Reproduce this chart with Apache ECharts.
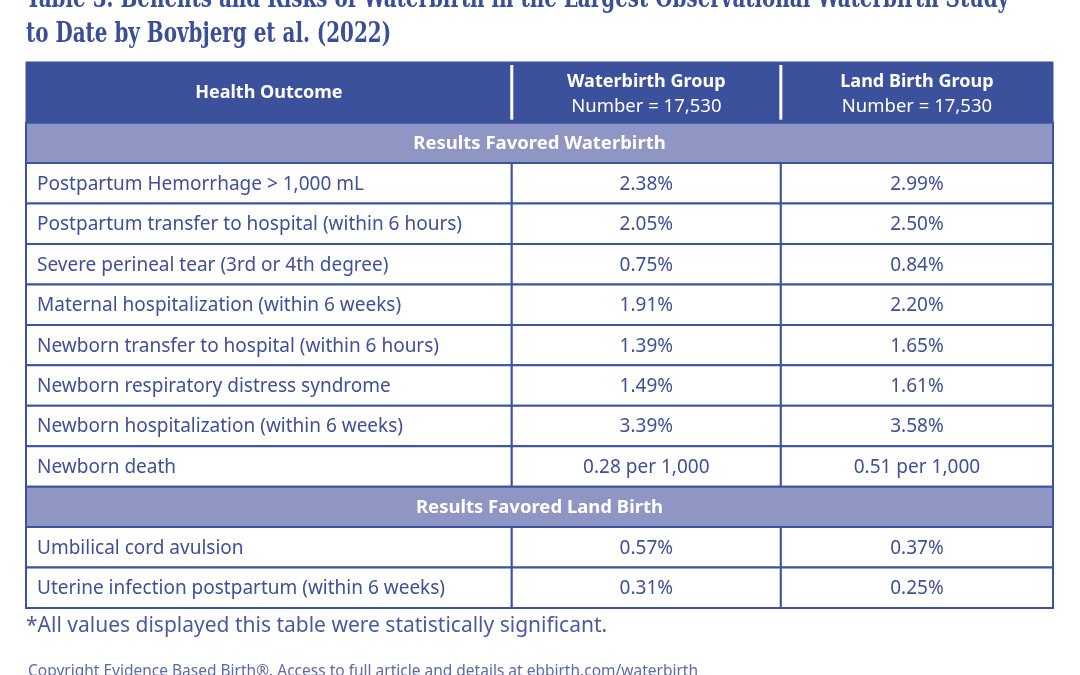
<!DOCTYPE html>
<html>
<head>
<meta charset="utf-8">
<script src="https://cdn.jsdelivr.net/npm/echarts@6.0.0/dist/echarts.min.js"></script>
<style>
    html, body { margin: 0; padding: 0; background: #fff; }
    #chart { width: 1080px; height: 675px; }
</style>
</head>
<body>
<div id="chart"></div>
<script>
// table content
const headers = ['Health Outcome', 'Waterbirth Group', 'Land Birth Group'];
const groupSizes = ['', 'Number = 17,530', 'Number = 17,530'];
const sectionTitles = ['Results Favored Waterbirth', 'Results Favored Land Birth'];

const waterFavoredOutcomes = [
    'Postpartum Hemorrhage > 1,000 mL',
    'Postpartum transfer to hospital (within 6 hours)',
    'Severe perineal tear (3rd or 4th degree)',
    'Maternal hospitalization (within 6 weeks)',
    'Newborn transfer to hospital (within 6 hours)',
    'Newborn respiratory distress syndrome',
    'Newborn hospitalization (within 6 weeks)',
    'Newborn death'
];
const waterFavoredWater = ['2.38%', '2.05%', '0.75%', '1.91%', '1.39%', '1.49%', '3.39%', '0.28 per 1,000'];
const waterFavoredLand = ['2.99%', '2.50%', '0.84%', '2.20%', '1.65%', '1.61%', '3.58%', '0.51 per 1,000'];

const landFavoredOutcomes = [
    'Umbilical cord avulsion',
    'Uterine infection postpartum (within 6 weeks)'
];
const landFavoredWater = ['0.57%', '0.31%'];
const landFavoredLand = ['0.37%', '0.25%'];

const titleText = 'Table 3. Benefits and Risks of Waterbirth in the Largest Observational Waterbirth Study\nto Date by Bovbjerg et al. (2022)';
const footnoteText = '*All values displayed this table were statistically significant.';
const copyrightText = 'Copyright Evidence Based Birth\u00ae. Access to full article and details at ebbirth.com/waterbirth';

// layout (axis units)
const colEdges = [0, 0.473, 0.735, 1];
const headerHeight = 1.5;

const DARK = '#3b519b';
const SECTION = '#9096c4';
const BORDER = '#3d53a0';
const TEXT = '#3f5094';
const FONT = '"Noto Sans", sans-serif';

// build cell list from the arrays
const cells = [];
let rowTop = 0;
headers.forEach((h, i) => {
    cells.push({ kind: 'header', x0: colEdges[i], x1: colEdges[i + 1], y0: 0, y1: headerHeight, text: h, sub: groupSizes[i], col: i });
});
rowTop = headerHeight;

function addSection(title, outcomes, water, land) {
    cells.push({ kind: 'section', x0: 0, x1: 1, y0: rowTop, y1: rowTop + 1, text: title });
    rowTop += 1;
    outcomes.forEach((o, i) => {
        const vals = [o, water[i], land[i]];
        vals.forEach((v, c) => {
            cells.push({ kind: 'data', x0: colEdges[c], x1: colEdges[c + 1], y0: rowTop, y1: rowTop + 1, text: v, col: c });
        });
        rowTop += 1;
    });
}
addSection(sectionTitles[0], waterFavoredOutcomes, waterFavoredWater, waterFavoredLand);
addSection(sectionTitles[1], landFavoredOutcomes, landFavoredWater, landFavoredLand);
const totalRows = rowTop;

function renderCell(params, api) {
    const c = cells[params.dataIndex];
    const p0 = api.coord([api.value(0), api.value(2)]);
    const p1 = api.coord([api.value(1), api.value(3)]);
    const x = p0[0], y = p0[1], w = p1[0] - p0[0], h = p1[1] - p0[1];
    const cx = x + w / 2, cy = y + h / 2;
    const children = [];

    if (c.kind === 'header') {
        children.push({ type: 'rect', shape: { x, y, width: w, height: h }, style: { fill: DARK, stroke: DARK, lineWidth: 1 } });
        if (c.col > 0) {
            children.push({ type: 'line', shape: { x1: x, y1: y + 3, x2: x, y2: y + h - 3 }, style: { stroke: '#fff', lineWidth: 3 }, z2: 5 });
        }
        if (c.sub) {
            children.push({ type: 'text', style: { text: c.text, x: cx, y: cy - 10, align: 'center', verticalAlign: 'middle', fill: '#fff', font: 'bold 18px ' + FONT } });
            children.push({ type: 'text', style: { text: c.sub, x: cx, y: cy + 14, align: 'center', verticalAlign: 'middle', fill: '#fff', font: '18.5px ' + FONT } });
        } else {
            children.push({ type: 'text', style: { text: c.text, x: cx, y: cy + 1, align: 'center', verticalAlign: 'middle', fill: '#fff', font: 'bold 18px ' + FONT } });
        }
    } else if (c.kind === 'section') {
        children.push({ type: 'rect', shape: { x, y, width: w, height: h }, style: { fill: SECTION, stroke: BORDER, lineWidth: 2 } });
        children.push({ type: 'text', style: { text: c.text, x: cx, y: cy + 1, align: 'center', verticalAlign: 'middle', fill: '#fff', font: 'bold 18.5px ' + FONT } });
    } else {
        children.push({ type: 'rect', shape: { x, y, width: w, height: h }, style: { fill: '#fff', stroke: BORDER, lineWidth: 2 } });
        children.push({
            type: 'text',
            style: {
                text: c.text,
                x: c.col === 0 ? x + 11 : cx,
                y: cy + 1,
                align: c.col === 0 ? 'left' : 'center',
                verticalAlign: 'middle',
                fill: TEXT,
                font: '19px ' + FONT
            }
        });
    }
    return { type: 'group', children };
}

const chart = echarts.init(document.getElementById('chart'));
chart.setOption({
    animation: false,
    grid: { left: 26, right: 27, top: 62, bottom: 67 },
    xAxis: { type: 'value', min: 0, max: 1, show: false },
    yAxis: { type: 'value', min: 0, max: totalRows, inverse: true, show: false },
    graphic: [
        {
            type: 'text', x: 26, y: -18, scaleX: 0.82,
            style: { text: titleText, x: 0, y: 0, fill: '#3b4f97', font: 'bold 27px "DejaVu Serif Condensed", serif', lineHeight: 35 }
        },
        {
            type: 'text', left: 26, top: 616,
            style: { text: footnoteText, fill: '#4a5a9c', font: '21px ' + FONT }
        },
        {
            type: 'text', left: 28, top: 664,
            style: { text: copyrightText, fill: '#5d6aa6', font: '15.5px ' + FONT }
        }
    ],
    series: [{
        type: 'custom',
        renderItem: renderCell,
        clip: false,
        encode: { x: [0, 1], y: [2, 3] },
        data: cells.map(c => [c.x0, c.x1, c.y0, c.y1])
    }]
});
</script>
</body>
</html>
